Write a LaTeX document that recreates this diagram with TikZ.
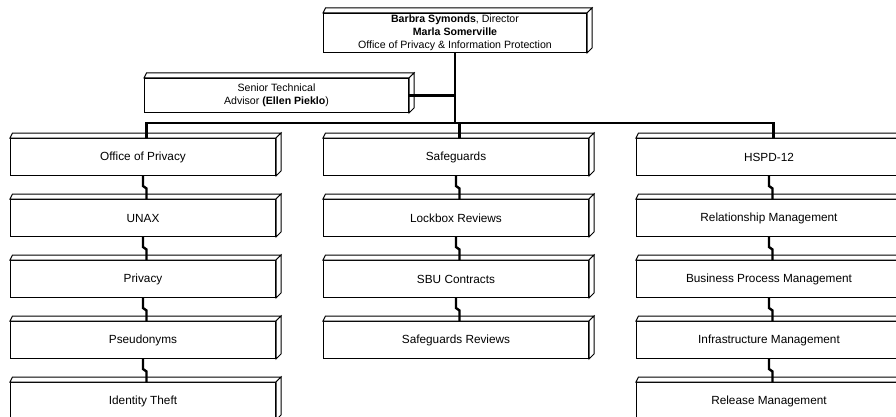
\documentclass[tikz,border=0pt]{standalone}
\usepackage{fontspec}
\setmainfont{Liberation Sans}
\begin{document}
\begin{tikzpicture}[x=1pt,y=-1pt,
  cbox/.style={draw, line width=1pt, fill=white, minimum width=265pt, minimum height=37pt,
    inner sep=0pt, anchor=north west, align=center, font=\fontsize{11.8}{14}\selectfont},
  hbox/.style={cbox, font=\fontsize{10.6}{13}\selectfont},
  face/.style={draw, line width=1pt, fill=white, line join=miter},
  conn/.style={line width=2.4pt}]
\useasboundingbox (0,0) rectangle (896,417);
\clip (0,0) rectangle (896,417);
\newcommand{\threed}[1]{%
  \draw[face] (#1.north west) -- ([shift={(2.5pt,5pt)}]#1.north west) -- ([shift={(5pt,5pt)}]#1.north east) -- (#1.north east) -- cycle;
  \draw[face] (#1.north east) -- ([shift={(5pt,5pt)}]#1.north east) -- ([shift={(5pt,5pt)}]#1.south east) -- (#1.south east) -- cycle;}
% boxes
\node[hbox, minimum width=263pt, minimum height=39pt] (top) at (323,13)
  {\textbf{Barbra Symonds}, Director\\\textbf{Marla Somerville}\\Office of Privacy \& Information Protection};
\node[hbox, minimum width=264pt, minimum height=34pt] (sen) at (144,78)
  {Senior Technical\\Advisor \textbf{(Ellen Pieklo})};
\node[cbox] (c1r1) at (10,138) {Office of Privacy};
\node[cbox] (c1r2) at (10,199) {UNAX};
\node[cbox] (c1r3) at (10,260) {Privacy};
\node[cbox] (c1r4) at (10,321) {Pseudonyms};
\node[cbox] (c1r5) at (10,382) {Identity Theft};
\node[cbox] (c2r1) at (323,138) {Safeguards};
\node[cbox] (c2r2) at (323,199) {Lockbox Reviews};
\node[cbox] (c2r3) at (323,260) {SBU Contracts};
\node[cbox] (c2r4) at (323,321) {Safeguards Reviews};
\node[cbox] (c3r1) at (636,138) {HSPD-12};
\node[cbox] (c3r2) at (636,199) {Relationship Management};
\node[cbox] (c3r3) at (636,260) {Business Process Management};
\node[cbox] (c3r4) at (636,321) {Infrastructure Management};
\node[cbox] (c3r5) at (636,382) {Release Management};
\foreach \n in {top,sen,c1r1,c1r2,c1r3,c1r4,c1r5,c2r1,c2r2,c2r3,c2r4,c3r1,c3r2,c3r3,c3r4,c3r5}{\threed{\n}}
% connectors
\coordinate (bar) at (455,123);
\draw[conn] (top.south) -- (bar);
\draw[conn] (sen.east) -- (sen.east -| top.south);
\draw[conn] ([xshift=3.5pt]c1r1.north) |- (bar);
\draw[conn] ([xshift=3.5pt]c2r1.north) |- (bar);
\draw[conn] ([xshift=4.5pt]c3r1.north) |- (bar);
\foreach \a/\b in {c1r1/c1r2,c1r2/c1r3,c1r3/c1r4,c1r4/c1r5,c2r1/c2r2,c2r2/c2r3,c2r3/c2r4,c3r1/c3r2,c3r2/c3r3,c3r3/c3r4,c3r4/c3r5}{
  \draw[conn] (\a.south) -- ++(0,10) -- ++(3.5,2.5) -- ([xshift=3.5pt]\b.north);
}
\end{tikzpicture}
\end{document}
